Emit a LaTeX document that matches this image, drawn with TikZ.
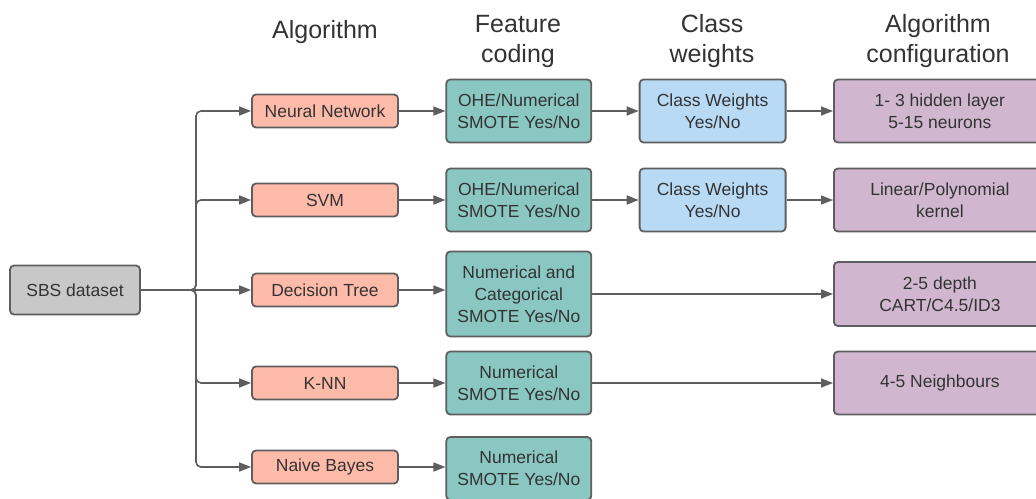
\documentclass[tikz,border=0pt]{standalone}
\usepackage{fontspec}
\setmainfont{Liberation Sans}
\usepackage{xcolor}
\usetikzlibrary{arrows.meta,positioning}

\definecolor{edge}{HTML}{5E5E5E}
\definecolor{ink}{HTML}{333333}
\definecolor{algfill}{HTML}{FFBBAA}
\definecolor{featfill}{HTML}{8AC7C2}
\definecolor{cwfill}{HTML}{B9DAF4}
\definecolor{cfgfill}{HTML}{D0B7CF}
\definecolor{datafill}{HTML}{C8C8C8}

\begin{document}
\begin{tikzpicture}[
  x=1pt, y=-1pt,
  node distance=10mm and 46.5pt,
  box/.style={draw=edge, line width=1.8pt, rounded corners=4pt, align=center, text=ink, inner sep=2pt, font=\fontsize{17.5}{22}\selectfont},
  data/.style={box, fill=datafill, minimum width=130pt, minimum height=49pt},
  alg/.style={box, fill=algfill, minimum width=146pt, minimum height=33pt},
  feat/.style={box, fill=featfill, minimum width=145pt, minimum height=63pt},
  cw/.style={box, fill=cwfill, minimum width=146pt, minimum height=63pt},
  cfg/.style={box, fill=cfgfill, minimum width=212pt, minimum height=63pt},
  head/.style={align=center, text=ink, font=\fontsize{25}{30}\selectfont},
  arrow/.style={-{Triangle[length=12pt, width=9pt]}, draw=edge, line width=1.6pt}
]
\clip (0,0) rectangle (1036,498);

% column headings
\node[head] (hAlg) at (325,32.5) {Algorithm};
\node[head] (hFeat) at (518,41.5) {Feature\\coding};
\node[head] (hCw) at (712,41.5) {Class\\weights};
\node[head] (hCfg) at (938,41.5) {Algorithm\\configuration};

% dataset and algorithms
\node[data] (sbs) at (75,290) {SBS dataset};
\node[alg] (nn) at (325,111) {Neural Network};
\node[alg] (svm) at (325,200) {SVM};
\node[alg] (dt) at (325,290) {Decision Tree};
\node[alg] (knn) at (325,383) {K-NN};
\node[alg] (nb) at (325,467) {Naive Bayes};

% feature coding
\node[feat, right=of nn] (nnFeat) {OHE/Numerical\\SMOTE Yes/No};
\node[feat, right=of svm] (svmFeat) {OHE/Numerical\\SMOTE Yes/No};
\node[feat, minimum height=85pt] (dtFeat) at (nnFeat |- 0,294) {Numerical and\\Categorical\\SMOTE Yes/No};
\node[feat, right=of knn] (knnFeat) {Numerical\\SMOTE Yes/No};
\node[feat] (nbFeat) at (nnFeat |- 0,468.5) {Numerical\\SMOTE Yes/No};

% class weights
\node[cw, right=of nnFeat] (nnCw) {Class Weights\\Yes/No};
\node[cw, right=of svmFeat] (svmCw) {Class Weights\\Yes/No};

% configuration
\node[cfg, right=of nnCw] (nnCfg) {1- 3 hidden layer\\5-15 neurons};
\node[cfg, right=of svmCw] (svmCfg) {Linear/Polynomial\\kernel};
\node[cfg, minimum height=64pt] (dtCfg) at (nnCfg |- dtFeat) {2-5 depth\\CART/C4.5/ID3};
\node[cfg] (knnCfg) at (nnCfg |- knn) {4-5 Neighbours};

% branching from the dataset
\coordinate (split) at (196,290);
\foreach \a in {nn,svm,knn,nb}
  \draw[arrow, rounded corners=5pt] (sbs.east) -- (split) |- (\a.west);
\draw[arrow] (sbs.east) -- (dt.west);

% rows
\draw[arrow] (nn) -- (nnFeat);
\draw[arrow] (nnFeat) -- (nnCw);
\draw[arrow] (nnCw) -- (nnCfg);
\draw[arrow] (svm) -- (svmFeat);
\draw[arrow] (svmFeat) -- (svmCw);
\draw[arrow] (svmCw) -- (svmCfg);
\draw[arrow] (dt.east) -- (dt.east -| dtFeat.west);
\draw[arrow] (dtFeat) -- (dtCfg);
\draw[arrow] (knn) -- (knnFeat);
\draw[arrow] (knnFeat) -- (knnCfg);
\draw[arrow] (nb.east) -- (nb.east -| nbFeat.west);
\end{tikzpicture}
\end{document}
